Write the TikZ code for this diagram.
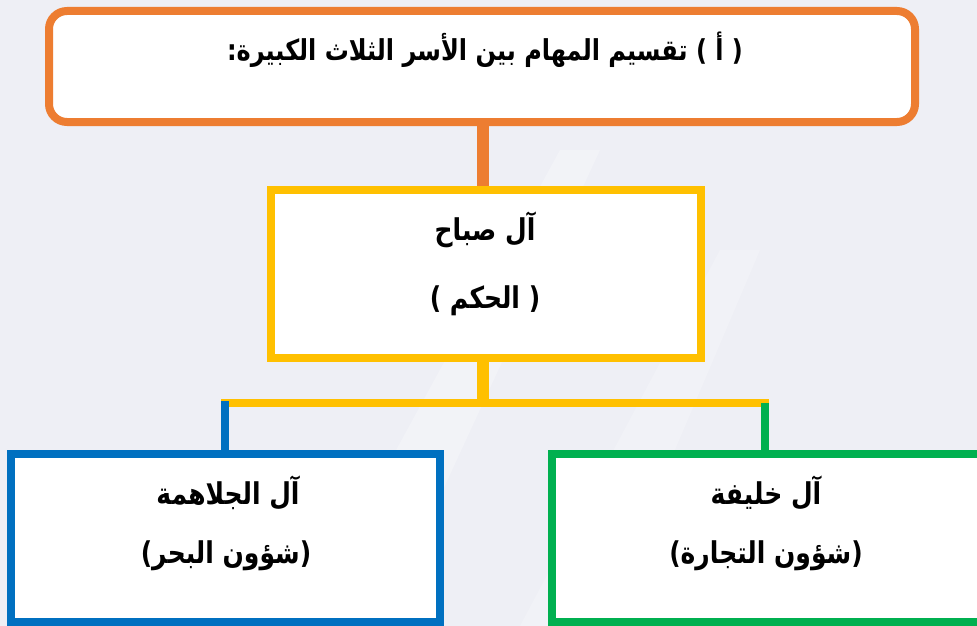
\documentclass[tikz,border=0pt]{standalone}
\usepackage{fontspec}
\newfontfamily\arabicfont[Script=Arabic]{DejaVu Sans}
\TeXXeTstate=1
\usetikzlibrary{backgrounds}
\definecolor{bgc}{RGB}{238,239,245}
\definecolor{orangec}{RGB}{237,125,49}
\definecolor{yellowc}{RGB}{255,192,0}
\definecolor{bluec}{RGB}{0,112,192}
\definecolor{greenc}{RGB}{0,176,80}
\newcommand{\artall}[1]{\scalebox{1}[1.2]{\beginR #1\endR}}
\tikzset{
  famebox/.style={draw, line width=8pt, fill=white, inner sep=0pt},
  artext/.style={font=\arabicfont\bfseries\fontsize{25}{29}\selectfont, inner sep=0pt, text=black},
  titletext/.style={font=\arabicfont\bfseries\fontsize{24}{28}\selectfont, inner sep=0pt, text=black},
}
\begin{document}
\begin{tikzpicture}[x=1pt,y=-1pt]
\useasboundingbox (0,0) rectangle (977,626);
% boxes
\node[famebox, draw=orangec, rounded corners=18pt, minimum width=866pt, minimum height=111pt] (top) at (482,66.5) {};
\node[titletext] (toptext) at (485,50) {\artall{( أ ) تقسيم المهام بين الأسر الثلاث الكبيرة:}};
\node[famebox, draw=yellowc, minimum width=430pt, minimum height=168.5pt] (sabah) at (486,273.75) {};
\node[artext] (sabah1) at (485,230) {\artall{آل صباح}};
\node[artext] (sabah2) at (485,301) {\artall{( الحكم )}};
\node[famebox, draw=bluec, minimum width=429pt, minimum height=168.5pt] (jal) at (225.5,537.75) {};
\node[artext] (jal1) at (228,493) {\artall{آل الجلاهمة}};
\node[artext] (jal2) at (226,556) {\artall{(شؤون البحر)}};
\node[famebox, draw=greenc, minimum width=430pt, minimum height=168.5pt] (kha) at (767,537.75) {};
\node[artext] (kha1) at (766,493) {\artall{آل خليفة}};
\node[artext] (kha2) at (766,556) {\artall{(شؤون التجارة)}};
\coordinate (hub) at (483,403);
\coordinate (jtop) at (225,403);
\coordinate (ktop) at (765,403);
\begin{scope}[on background layer]
  \fill[bgc] (0,0) rectangle (977,626);
  \fill[white, opacity=0.25] (300,626) -- (380,626) -- (600,150) -- (560,150) -- cycle;
  \fill[white, opacity=0.2] (520,626) -- (600,626) -- (760,250) -- (720,250) -- cycle;
  \draw[orangec, line width=12pt] (top.south -| hub) -- (sabah.north -| hub);
  \draw[yellowc, line width=12pt] (sabah.south -| hub) -- (hub);
  \draw[yellowc, line width=8pt, line cap=rect] (jtop) -- (ktop);
  \draw[bluec, line width=8pt] ([yshift=2pt]jtop) -- (jal.north -| jtop);
  \draw[greenc, line width=8pt] (ktop) -- (kha.north -| ktop);
\end{scope}
\end{tikzpicture}
\end{document}
